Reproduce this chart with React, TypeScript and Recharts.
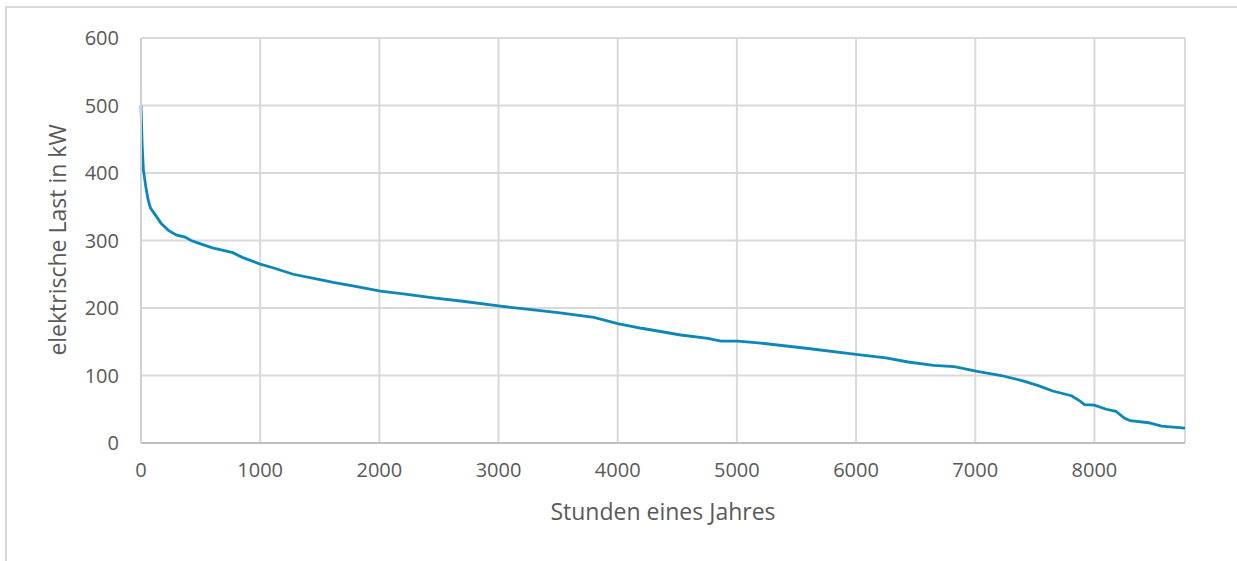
import React from 'react';
import { LineChart, Line, XAxis, YAxis, CartesianGrid, Label } from 'recharts';

const hours = [0, 5, 10, 20, 40, 60, 80, 120, 170, 230, 300, 370, 420, 500, 600, 770, 850, 1000, 1100, 1277, 1450, 1613, 1800, 2008, 2200, 2454, 2700, 3000, 3200, 3500, 3800, 4000, 4200, 4529, 4756, 4866, 5008, 5200, 5597, 6017, 6250, 6437, 6650, 6824, 7017, 7218, 7400, 7529, 7650, 7807, 7880, 7916, 8000, 8100, 8180, 8250, 8300, 8454, 8563, 8760];
const loadKW = [500, 470, 440, 405, 380, 360, 348, 338, 325, 315, 308, 305, 300, 295, 289, 282, 275, 265, 260, 250, 244, 238, 232, 225, 221, 215, 210, 203, 199, 193, 186, 177, 170, 160, 155, 151, 151, 148, 140, 131, 126, 120, 115, 113, 106, 100, 92, 85, 77, 70, 62, 57, 56, 50, 47, 37, 33, 30, 25, 22];
const xTicks = [0, 1000, 2000, 3000, 4000, 5000, 6000, 7000, 8000];
const yTicks = [0, 100, 200, 300, 400, 500, 600];

const data = hours.map((h, i) => ({ h, v: loadKW[i] }));

const FONT = '"Open Sans", "Noto Sans", sans-serif';
const TEXT = '#595959';

const YTitle = () => (
  <text x={57} y={240} transform="rotate(-90 57 240)" textAnchor="middle" dominantBaseline="central" fill={TEXT} fontSize={23} fontFamily={FONT}>
    elektrische Last in kW
  </text>
);

export default function App() {
  return (
    <div style={{ position: 'absolute', left: 0, top: 0, width: 1237, height: 561, overflow: 'hidden', background: '#fff', fontFamily: FONT }}>
      <div style={{ position: 'absolute', left: 5, top: 6, width: 1400, height: 700, borderTop: '2px solid #d9d9d9', borderLeft: '2px solid #d9d9d9' }} />
      <div style={{ position: 'absolute', left: 0, top: 0 }}>
        <LineChart width={1237} height={561} data={data} margin={{ top: 38, right: 52, bottom: 88, left: 81 }}>
          <CartesianGrid stroke="#d9d9d9" strokeWidth={2} horizontal={true} vertical={true} />
          <XAxis
            dataKey="h"
            type="number"
            domain={[0, 8760]}
            ticks={xTicks}
            tickLine={false}
            tickSize={0}
            tickMargin={20}
            axisLine={{ stroke: '#bfbfbf', strokeWidth: 2 }}
            tick={{ fill: TEXT, fontSize: 20, fontFamily: FONT }}
            height={30}
            interval={0}
          >
            <Label value="Stunden eines Jahres" position="bottom" offset={31} fill={TEXT} fontSize={23} fontFamily={FONT} />
          </XAxis>
          <YAxis
            type="number"
            domain={[0, 600]}
            ticks={yTicks}
            tickLine={false}
            tickSize={0}
            tickMargin={22}
            axisLine={{ stroke: '#d0d0d0', strokeWidth: 2 }}
            tick={{ fill: TEXT, fontSize: 20, fontFamily: FONT }}
            width={60}
            interval={0}
          >
            <Label content={<YTitle />} />
          </YAxis>
          <Line type="linear" dataKey="v" stroke="#0c87b7" strokeWidth={2.8} dot={false} isAnimationActive={false} />
        </LineChart>
      </div>
    </div>
  );
}
